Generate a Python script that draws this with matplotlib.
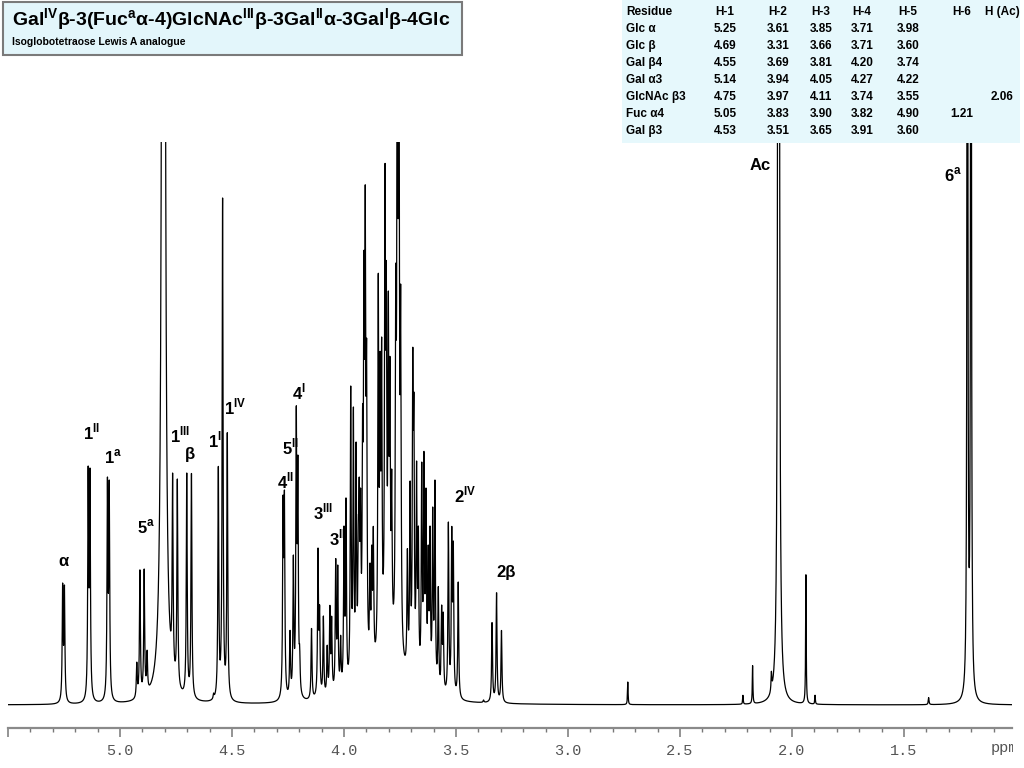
import numpy as np
import matplotlib
matplotlib.use("Agg")
import matplotlib.pyplot as plt
from matplotlib.patches import Rectangle
from matplotlib.transforms import Bbox

plt.rcParams["font.family"] = ["Liberation Sans", "DejaVu Sans"]
plt.rcParams["mathtext.fontset"] = "custom"
plt.rcParams["mathtext.rm"] = "Liberation Sans"
plt.rcParams["mathtext.bf"] = "Liberation Sans:bold"

# ---- multiplet lines: (ppm, apex height) ----
# heights are "pixels above baseline" as seen in the original picture
anomeric_lines = [
    (5.256, 122), (5.248, 120),             # alpha H-1
    (5.142, 239), (5.134, 237),             # 1 II
    (5.056, 228), (5.048, 225),             # 1 a
    (4.925, 43), (4.911, 136), (4.892, 136), (4.879, 55),   # 5 a
    (4.765, 233), (4.744, 226),             # 1 III
    (4.702, 232), (4.681, 233),             # beta
    (4.561, 240), (4.542, 507), (4.521, 274),   # 1 I / 1 IV
    (4.582, 12),
]
ring_lines = [
    (4.272, 210), (4.266, 215), (4.241, 75), (4.226, 150), (4.213, 300),
    (4.206, 250), (4.198, 60),
    (4.145, 77), (4.116, 157), (4.109, 100), (4.092, 89), (4.075, 60),
    (4.063, 100), (4.055, 89), (4.037, 147), (4.028, 140), (4.015, 70),
    (4.000, 179), (3.991, 208),
    (3.970, 319), (3.958, 298), (3.946, 263), (3.936, 187), (3.932, 228),
    (3.926, 217), (3.917, 300), (3.911, 455), (3.905, 522), (3.899, 365),
    (3.884, 142), (3.876, 160), (3.869, 179),
    (3.847, 433), (3.839, 355), (3.832, 368), (3.817, 542), (3.811, 444),
    (3.802, 414), (3.795, 349), (3.787, 236),
    (3.769, 440), (3.762, 800), (3.755, 800), (3.747, 420),
    (3.717, 157), (3.705, 225), (3.693, 357), (3.688, 312), (3.676, 244),
    (3.668, 179), (3.653, 244), (3.643, 255), (3.634, 217), (3.624, 160),
    (3.616, 179), (3.604, 198), (3.594, 225), (3.579, 119), (3.564, 100),
    (3.557, 93),
    (3.534, 183), (3.519, 179), (3.512, 164), (3.490, 123),     # 2 IV
    (3.339, 83), (3.319, 113), (3.297, 75),                     # 2 beta
    (3.377, 5),
]
# (ppm, amplitude, half width in ppm) for solvent, singlets and small lines
single_lines = [
    (4.806, 5000, 0.0035),     # HDO
    (3.800, 38, 0.085),        # unresolved hump under the ring protons
    (2.733, 23, 0.0015),
    (2.219, 9, 0.0015),
    (2.176, 38, 0.0015),
    (2.092, 18, 0.002),
    (2.060, 4000, 0.002),      # N-acetyl
    (1.938, 129, 0.0015),
    (1.897, 9, 0.0015),
    (1.390, 7, 0.002),
    (1.217, 1500, 0.00175),    # 6 a
    (1.201, 1500, 0.00175),
]
line_width = 0.0024

# peak annotations: (text, ppm, height)
peak_labels = [
    ("α", 5.254, 143),
    ("1$^{\\mathbf{II}}$", 5.125, 273),
    ("1$^{\\mathbf{a}}$", 5.031, 248),
    ("5$^{\\mathbf{a}}$", 4.884, 178),
    ("1$^{\\mathbf{III}}$", 4.732, 270),
    ("β", 4.688, 250),
    ("1$^{\\mathbf{I}}$", 4.576, 265),
    ("1$^{\\mathbf{IV}}$", 4.487, 298),
    ("4$^{\\mathbf{I}}$", 4.201, 313),
    ("5$^{\\mathbf{II}}$", 4.237, 258),
    ("4$^{\\mathbf{II}}$", 4.263, 224),
    ("3$^{\\mathbf{III}}$", 4.094, 193),
    ("3$^{\\mathbf{II}}$", 4.031, 167),
    ("2$^{\\mathbf{IV}}$", 3.460, 210),
    ("2β", 3.277, 133),
    ("Ac", 2.143, 539),
    ("6$^{\\mathbf{a}}$", 1.281, 530),
]

# chemical shift table
residues = ["Glc α", "Glc β", "Gal β4", "Gal α3", "GlcNAc β3", "Fuc α4", "Gal β3"]
col_heads = ["H-1", "H-2", "H-3", "H-4", "H-5", "H-6", "H (Ac)"]
shifts = [
    ["5.25", "3.61", "3.85", "3.71", "3.98", "", ""],
    ["4.69", "3.31", "3.66", "3.71", "3.60", "", ""],
    ["4.55", "3.69", "3.81", "4.20", "3.74", "", ""],
    ["5.14", "3.94", "4.05", "4.27", "4.22", "", ""],
    ["4.75", "3.97", "4.11", "3.74", "3.55", "", "2.06"],
    ["5.05", "3.83", "3.90", "3.82", "4.90", "1.21", ""],
    ["4.53", "3.51", "3.65", "3.91", "3.60", "", ""],
]

title = ("Gal$^{\\mathbf{IV}}$β-3(Fuc$^{\\mathbf{a}}$α-4)GlcNAc$^{\\mathbf{III}}$"
         "β-3Gal$^{\\mathbf{II}}$α-3Gal$^{\\mathbf{I}}$β-4Glc")
subtitle = "Isoglobotetraose Lewis A analogue"


def lorentz(x, c, w):
    return w**2 / (w**2 + (x - c) ** 2)


# ---- amplitudes so that each multiplet line hits its apex height ----
lines = anomeric_lines + ring_lines
centers = np.array([c for c, h in lines])
apex = np.array([h for c, h in lines], dtype=float)
fixed_at = np.zeros_like(centers)
for c, a, w in single_lines:
    fixed_at += a * lorentz(centers, c, w)
M = lorentz(centers[:, None], centers[None, :], line_width)
amps = np.clip(np.linalg.solve(M, apex - fixed_at), 0, None)

ppm = np.arange(1.0, 5.5, 0.0004)
spec = np.zeros_like(ppm)
for c, a in zip(centers, amps):
    spec += a * lorentz(ppm, c, line_width)
for c, a, w in single_lines:
    spec += a * lorentz(ppm, c, w)

W, H = 1024, 768
fig = plt.figure(figsize=(W / 100, H / 100), dpi=100)
ax = fig.add_axes([8 / W, (H - 728) / H, 1004 / W, 586 / H])
ax.plot(ppm, spec, color="black", lw=0.9)
ax.set_xlim(5.5, 1.018)
ax.set_ylim(-23, 563)

for s in ["left", "right", "top"]:
    ax.spines[s].set_visible(False)
ax.spines["bottom"].set_color("#8a8a8a")
ax.spines["bottom"].set_linewidth(1.6)
ax.set_yticks([])
major = [5.5, 5.0, 4.5, 4.0, 3.5, 3.0, 2.5, 2.0, 1.5]
ax.set_xticks(major)
ax.set_xticklabels(["" if m == 5.5 else f"{m:.1f}" for m in major],
                   family="Liberation Mono", fontsize=11, color="#555555")
ax.set_xticks(np.arange(11, 55) / 10, minor=True)
ax.tick_params(axis="x", which="major", length=6.5, width=1.1, color="#777777",
               pad=5)
ax.tick_params(axis="x", which="minor", length=3, width=1.0, color="#777777")

for txt, x, y in peak_labels:
    ax.text(x, y, txt, ha="center", va="center", fontsize=12,
            fontweight="bold", clip_on=False)

ppm_txt = fig.text(991 / W, 1 - 748 / H, "ppm", family="Liberation Mono",
                   fontsize=11, color="#555555", va="center", ha="left")
ppm_txt.set_clip_box(Bbox([[0, 0], [1013, H]]))
ppm_txt.set_clip_on(True)

# ---- title box ----
fig.add_artist(Rectangle((3 / W, 1 - 55 / H), 459 / W, 53 / H,
                         transform=fig.transFigure, facecolor="#e3f6fb",
                         edgecolor="#7a7a7a", lw=1.5, zorder=5))
fig.text(12 / W, 1 - 20 / H, title, fontsize=14, fontweight="bold",
         va="center", ha="left", zorder=6)
fig.text(12 / W, 1 - 42 / H, subtitle, fontsize=7.5, fontweight="bold",
         va="center", ha="left", zorder=6)

# ---- shift table ----
fig.add_artist(Rectangle((622 / W, 1 - 143 / H), 398 / W, 143 / H,
                         transform=fig.transFigure, facecolor="#e6f8fc",
                         edgecolor="none", zorder=5))
col_x = [725, 778, 821, 862, 908, 962, 1002]
row_y = [12 + 17 * i for i in range(8)]
fig.text(626 / W, 1 - row_y[0] / H, "Residue", fontsize=8.5,
         fontweight="bold", va="center", ha="left", zorder=6)
for cx, head in zip(col_x, col_heads):
    fig.text(cx / W, 1 - row_y[0] / H, head, fontsize=8.5, fontweight="bold",
             va="center", ha="center", zorder=6)
for ry, res, vals in zip(row_y[1:], residues, shifts):
    fig.text(626 / W, 1 - ry / H, res, fontsize=8.5, fontweight="bold",
             va="center", ha="left", zorder=6)
    for cx, v in zip(col_x, vals):
        if v:
            fig.text(cx / W, 1 - ry / H, v, fontsize=8.5, fontweight="bold",
                     va="center", ha="center", zorder=6)

fig.savefig("out.png", dpi=100)
